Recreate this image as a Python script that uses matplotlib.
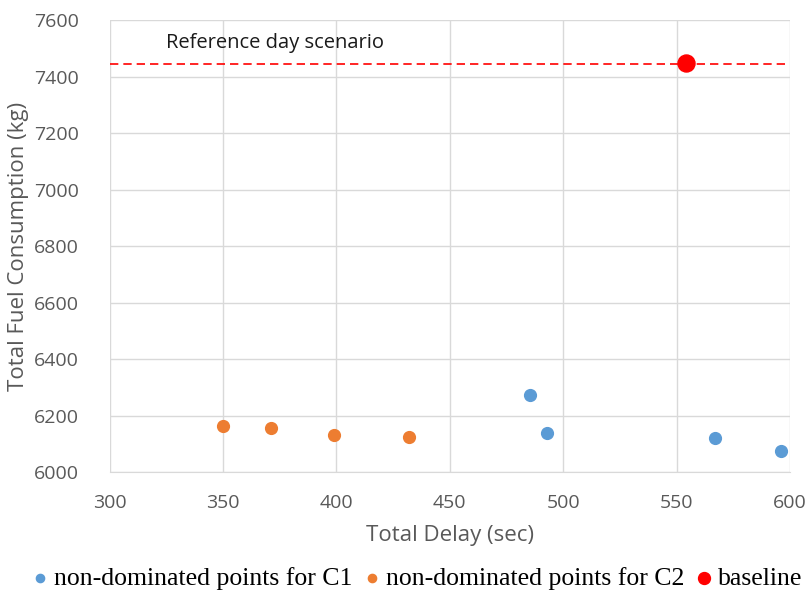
import matplotlib
matplotlib.use("Agg")
import matplotlib.pyplot as plt

c1_delay = [485.5, 493, 567, 596]
c1_fuel = [6272, 6138, 6120, 6075]
c2_delay = [350, 371, 399, 432]
c2_fuel = [6165, 6158, 6133, 6125]
base_delay = [554]
base_fuel = [7450]
ref_fuel = 7445

fig = plt.figure(figsize=(8.12, 5.94), dpi=100)
ax = fig.add_axes([0.135, 0.205, 0.838, 0.761])

tfont = "Open Sans"
ax.scatter(c1_delay, c1_fuel, s=72, color="#5B9BD5", zorder=3, label="non-dominated points for C1")
ax.scatter(c2_delay, c2_fuel, s=72, color="#ED7D31", zorder=3, label="non-dominated points for C2")
ax.scatter(base_delay, base_fuel, s=150, color="#FF0000", zorder=4, label="baseline")
ax.axhline(ref_fuel, color="#FF0000", linestyle=(0, (5, 3)), linewidth=1.2, zorder=2)
ax.text(325, 7485, "Reference day scenario", fontsize=14.5, family=tfont, color="#1a1a1a", va="bottom")

ax.set_xlim(300, 600)
ax.set_ylim(6000, 7600)
ax.set_xticks(range(300, 601, 50))
ax.set_yticks(range(6000, 7601, 200))
ax.grid(True, color="#d9d9d9", linewidth=1)
ax.set_axisbelow(True)
for s in ax.spines.values():
    s.set_visible(False)
ax.spines["bottom"].set_visible(True)
ax.spines["bottom"].set_color("#d9d9d9")
ax.tick_params(length=0, labelsize=14, colors="#595959")
ax.tick_params(axis="y", pad=22)
ax.tick_params(axis="x", pad=16)
for lab in ax.get_xticklabels() + ax.get_yticklabels():
    lab.set_family(tfont)
ax.set_xlabel("Total Delay (sec)", fontsize=16, family=tfont, color="#595959", labelpad=9)
ax.set_ylabel("Total Fuel Consumption (kg)", fontsize=16, family=tfont, color="#595959", labelpad=4)

leg = fig.legend(loc="center", bbox_to_anchor=(0.51, 0.026), ncol=3, frameon=False,
                 prop={"family": "Liberation Serif", "size": 18.5}, handletextpad=0.0,
                 columnspacing=0.2, markerscale=0.7, handlelength=1.1, borderpad=0)
fig.savefig("out.png", dpi=100)
